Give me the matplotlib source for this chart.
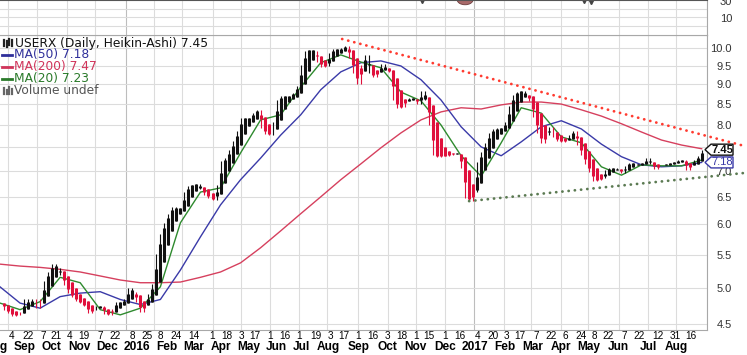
import numpy as np
import pandas as pd
import matplotlib
matplotlib.use('Agg')
import matplotlib.pyplot as plt
from matplotlib.patches import Polygon, Circle
from matplotlib.lines import Line2D
from matplotlib.transforms import IdentityTransform, blended_transform_factory

plt.rcParams['font.family'] = ['Liberation Sans', 'DejaVu Sans']

W, H, DPI = 747, 355, 100
start = '2015-08-24'            # first business day on the chart
x_end = '2017-09-01'            # right edge of the price panel

# closing prices, one every 3 business days from `start`
close = [4.78, 4.69, 4.65, 4.61, 4.62, 4.66, 4.83, 4.77, 4.84, 4.71,
         4.84, 5.10, 5.23, 5.35, 5.29, 5.19, 5.04, 4.92, 4.87, 4.81,
         4.78, 4.74, 4.65, 4.69, 4.74, 4.74, 4.63, 4.62, 4.70, 4.80,
         4.78, 4.83, 4.99, 4.94, 4.80, 4.66, 4.76, 4.91, 5.05, 5.51,
         5.84, 6.03, 6.19, 6.31, 6.28, 6.29, 6.59, 6.71, 6.73, 6.75,
         6.65, 6.54, 6.48, 6.44, 6.73, 7.21, 7.27, 7.44, 7.64, 7.86,
         8.17, 8.14, 8.17, 8.28, 8.36, 7.93, 7.80, 7.77, 8.07, 8.60,
         8.71, 8.68, 8.71, 8.78, 8.96, 9.52, 9.91, 9.94, 9.91, 9.60,
         9.47, 9.49, 9.86, 9.97, 9.94, 10.00, 10.06, 9.71, 9.30, 9.01,
         9.52, 9.80, 9.30, 9.20, 9.33, 9.55, 9.38, 9.33, 8.60, 8.41,
         8.43, 8.60, 8.66, 8.63, 8.50, 8.83, 8.60, 8.00, 7.34, 7.30,
         7.32, 7.32, 7.34, 7.38, 7.36, 7.07, 6.48, 6.42, 6.59, 7.19,
         7.40, 7.60, 7.82, 7.91, 7.93, 7.93, 8.07, 8.45, 8.73, 8.80,
         8.83, 8.73, 8.58, 8.19, 7.82, 7.60, 7.77, 7.96, 7.73, 7.64,
         7.62, 7.66, 7.77, 7.86, 7.55, 7.34, 7.15, 6.99, 6.81, 6.83,
         6.87, 7.03, 7.07, 7.07, 7.03, 6.97, 7.11, 7.17, 7.15, 7.15,
         7.17, 7.27, 7.15, 7.05, 7.13, 7.13, 7.15, 7.17, 7.19, 7.23,
         7.23, 7.03, 7.13, 7.23, 7.32, 7.45]
step = 3

# moving averages, one every 15 business days from `start`
ma_step = 15
ma50 = [5.01, 4.78, 4.71, 4.87, 4.92, 4.94, 4.83, 4.76, 4.83, 5.26,
        5.79, 6.35, 6.83, 7.27, 7.77, 8.24, 8.86, 9.33, 9.58, 9.63,
        9.49, 9.12, 8.60, 7.96, 7.51, 7.32, 7.62, 7.96, 8.10, 7.91,
        7.57, 7.30, 7.13, 7.09, 7.11, 7.18]
ma200 = [5.35, 5.32, 5.30, 5.27, 5.23, 5.17, 5.11, 5.07, 5.07, 5.08,
         5.15, 5.23, 5.37, 5.61, 5.89, 6.19, 6.50, 6.83, 7.15, 7.49,
         7.82, 8.12, 8.31, 8.41, 8.38, 8.48, 8.55, 8.55, 8.50, 8.36,
         8.21, 8.03, 7.84, 7.66, 7.55, 7.47]
ma20 = [4.78, 4.69, 4.80, 5.15, 5.07, 4.69, 4.62, 4.71, 5.01, 6.03,
        6.59, 6.67, 7.38, 8.12, 8.24, 8.93, 9.58, 9.80, 9.60, 9.44,
        8.80, 8.58, 8.00, 7.32, 6.90, 7.60, 8.41, 8.28, 7.73, 7.60,
        7.09, 6.92, 7.13, 7.11, 7.11, 7.23]

# trend lines (date, price)
red_trend = [('2016-08-16', 10.26), ('2017-10-11', 7.53)]
green_trend = [('2016-12-27', 6.42), ('2017-10-13', 6.97)]

price_ticks = [4.5, 5.0, 5.5, 6.0, 6.5, 7.0, 7.5, 8.0, 8.5, 9.0, 9.5, 10.0]
day_ticks = ['2015-09-04', '2015-09-22', '2015-10-07', '2015-10-21', '2015-11-04',
             '2015-11-19', '2015-12-07', '2015-12-22', '2016-01-08', '2016-01-25',
             '2016-02-08', '2016-02-24', '2016-03-14', '2016-04-01', '2016-04-18',
             '2016-05-03', '2016-05-17', '2016-06-01', '2016-06-16', '2016-07-01',
             '2016-07-19', '2016-08-03', '2016-08-17', '2016-09-01', '2016-09-16',
             '2016-10-03', '2016-10-18', '2016-11-01', '2016-11-15', '2016-12-01',
             '2016-12-16', '2017-01-04', '2017-01-20', '2017-02-03', '2017-02-17',
             '2017-03-07', '2017-03-22', '2017-04-06', '2017-04-24', '2017-05-08',
             '2017-05-22', '2017-06-07', '2017-06-22', '2017-07-12', '2017-07-31',
             '2017-08-16']

legend_rows = [('USERX (Daily, Heikin-Ashi) 7.45', '#111111'),
               ('MA(50) 7.18', '#2f2f9a'),
               ('MA(200) 7.47', '#d0345a'),
               ('MA(20) 7.23', '#2a7a2a'),
               ('Volume undef', '#555555')]
last_price = 7.45

UP, DOWN = '#111111', '#e0103c'
C50, C200, C20 = '#3a3aa8', '#d6405e', '#2e8a2e'


def bx(d):
    # business-day position of a date
    return np.busday_count(start, pd.Timestamp(d).strftime('%Y-%m-%d'))


# Heikin-Ashi candles from the closes
c = np.array(close)
o = np.r_[c[0], c[:-1]]
hi = np.maximum(o, c)
lo = np.minimum(o, c)
ha_c = (o + hi + lo + c) / 4
ha_o = np.empty_like(c)
ha_o[0] = (o[0] + c[0]) / 2
for i in range(1, len(c)):
    ha_o[i] = (ha_o[i - 1] + ha_c[i - 1]) / 2
ha_h = np.maximum.reduce([hi, ha_o, ha_c])
ha_l = np.minimum.reduce([lo, ha_o, ha_c])
xs = step * np.arange(len(c))
cols = np.where(ha_c >= ha_o, UP, DOWN)

fig = plt.figure(figsize=(W / DPI, H / DPI), dpi=DPI)
ax = fig.add_axes([0, 25 / H, 707 / W, 295 / H])
axt = fig.add_axes([0, 320 / H, 707 / W, 35 / H])

ax.set_yscale('log')
ax.set_ylim(4.422, 10.38)
ax.set_xlim(0, bx(x_end))

# grid
months = pd.date_range('2015-08-01', '2017-09-01', freq='BMS')
for m in months:
    col = '#bdbdbd' if m.month == 1 else '#dcdcdc'
    for a in (ax, axt):
        a.axvline(bx(m), color=col, lw=0.8, zorder=0)
for p in price_ticks:
    ax.axhline(p, color='#dcdcdc', lw=0.8, zorder=0)

# candles
ax.vlines(xs, ha_l, ha_h, colors=cols, lw=0.8, zorder=3)
ax.vlines(xs, np.minimum(ha_o, ha_c), np.maximum(ha_o, ha_c), colors=cols,
          lw=2.2, zorder=3)

# moving averages
mx = ma_step * np.arange(len(ma50))
ax.plot(mx, ma200, color=C200, lw=1.0, zorder=2)
ax.plot(mx, ma50, color=C50, lw=1.0, zorder=2)
ax.plot(mx, ma20, color=C20, lw=1.0, zorder=2)

# dotted trend lines
for pts, col in ((red_trend, '#ff3b30'), (green_trend, '#5b7a52')):
    ax.plot([bx(d) for d, _ in pts], [v for _, v in pts], color=col, lw=2.0,
            ls=(0, (0.05, 2.2)), dash_capstyle='round', clip_on=False, zorder=4)

# y axis on the right (the label under the last-price tag is covered by it)
ax.minorticks_off()
ax.yaxis.tick_right()
ax.set_yticks(price_ticks)
ax.set_yticklabels(['' if abs(p - last_price) < 0.1 else '%.1f' % p
                    for p in price_ticks])
ax.tick_params(axis='y', length=0, pad=18, labelsize=8, labelcolor='#333333')
for lbl in ax.get_yticklabels():
    lbl.set_ha('right')

# x axis: day numbers + month names
tick_x = [bx(d) for d in day_ticks]
ax.set_xticks(tick_x)
ax.set_xticklabels([str(pd.Timestamp(d).day) for d in day_ticks])
ax.tick_params(axis='x', length=0, pad=0.6, labelsize=7.2)
btr = blended_transform_factory(ax.transData, ax.transAxes)
last_month = pd.Timestamp(day_ticks[-1]).to_period('M')
mlabels = []
for m in months:
    if m.to_period('M') > last_month:
        continue
    name = str(m.year) if m.month == 1 else m.strftime('%b')
    t = ax.text(bx(m), -0.059, name, transform=btr, ha='center', va='center',
                fontsize=8.6, fontweight='bold', clip_on=False)
    mlabels.append((bx(m), t))

# month names sit at the month start unless pushed right by the previous one
renderer = fig.canvas.get_renderer()
px_per_day = ax.transData.transform((1, 5))[0] - ax.transData.transform((0, 5))[0]
gap = 6
prev_c, prev_w = None, None
for x0, t in mlabels:
    w = t.get_window_extent(renderer).width
    cx = x0 * px_per_day
    if prev_c is None:
        cx = max(cx, 8 - w / 2)
    else:
        cx = max(cx, prev_c + prev_w / 2 + gap + w / 2)
    t.set_x(cx / px_per_day)
    prev_c, prev_w = cx, w

for a in (ax, axt):
    for s in a.spines.values():
        s.set_color('#a8a8a8')
        s.set_linewidth(0.8)
    a.spines['left'].set_visible(False)

# top (cut-off) indicator panel
axt.set_xlim(ax.get_xlim())
axt.set_ylim(-10.6, 30.6)
axt.set_xticks([])
axt.yaxis.tick_right()
axt.set_yticks([30, 10])
axt.set_yticklabels(['30', '10'])
axt.tick_params(axis='y', length=0, pad=18, labelsize=8, labelcolor='#333333')
for lbl in axt.get_yticklabels():
    lbl.set_ha('right')
for v in (20, 10, 0):
    axt.axhline(v, color='#dcdcdc', lw=0.8, zorder=0)
axt.spines['top'].set_color('#555555')
axt.add_patch(Circle((bx('2016-12-22'), 31), 6, color='#a86a6a', ec='#6a3a3a',
                     lw=0.6, clip_on=True))
axt.plot([bx('2016-11-08'), bx('2017-04-26'), bx('2017-05-03')], [29, 29, 28.5],
         'v', color='#444444', ms=3)

# legend (text over the grid)
for i, (txt, col) in enumerate(legend_rows):
    y = 1 - (43 + 12 * i - (i > 0) * 0.5) / H
    fig.text((15 if i == 0 else 14) / W, y, txt, color=col, fontsize=8.8,
             family='DejaVu Sans', va='center', ha='left')
    yp = H - (43 + 12 * i)
    if i in (1, 2, 3):
        fig.add_artist(Line2D([2, 12], [yp, yp], color=col, lw=2,
                              transform=IdentityTransform()))
    elif i == 0:
        for xx, y0, y1 in ((4, -3, 3), (6.5, -4, 2), (9, -2, 4), (11.5, -3, 3)):
            fig.add_artist(Line2D([xx, xx], [yp + y0, yp + y1], color='#222222',
                                  lw=1.6, transform=IdentityTransform()))
    else:
        for xx, hh in ((4, 6), (6.5, 4), (9, 7), (11.5, 5)):
            fig.add_artist(Line2D([xx, xx], [yp - 3, yp - 3 + hh], color='#666666',
                                  lw=1.6, transform=IdentityTransform()))

# price tags on the right axis
for val, txt, edge, tcol, bold in ((last_price, '7.45', '#111111', '#111111', 'bold'),
                                   (ma50[-1], '7.18', '#3a3aa8', '#3a3aa8', 'normal')):
    yc = ax.transData.transform((0, val))[1]
    if txt == '7.18':
        yc = min(yc, ax.transData.transform((0, last_price))[1] - 12)
    pts = [(705, yc), (711, yc + 5.5), (733, yc + 5.5), (733, yc - 5.5), (711, yc - 5.5)]
    fig.add_artist(Polygon(pts, closed=True, fc='white', ec=edge, lw=1.0,
                           transform=IdentityTransform(), zorder=10))
    fig.text(722 / W, yc / H, txt, ha='center', va='center', fontsize=8,
             fontweight=bold, color=tcol, zorder=11)

fig.savefig('out.png', dpi=DPI)
